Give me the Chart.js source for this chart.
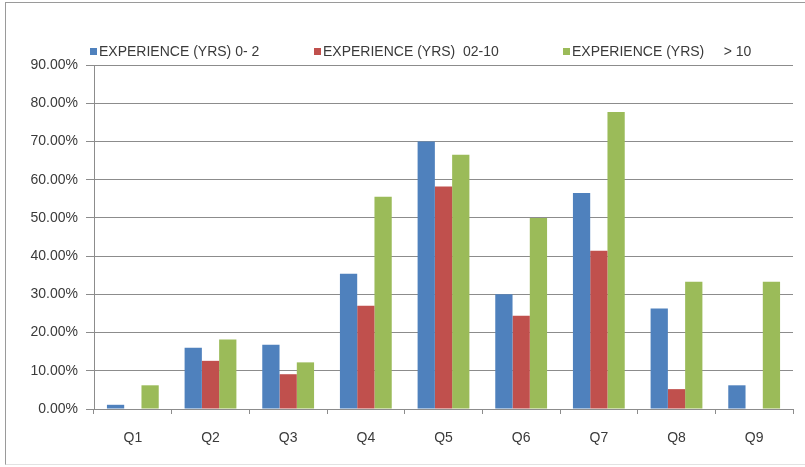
<!DOCTYPE html>
<html>
<head>
<meta charset="utf-8">
<title>Experience by question</title>
<script src="https://cdn.jsdelivr.net/npm/chart.js@4/dist/chart.umd.min.js"></script>
<style>
  html, body { margin: 0; padding: 0; background: #fff; }
  .wrap { position: relative; width: 805px; height: 467px; }
  .frame {
    position: absolute; left: 5px; top: 2px; right: -2px; bottom: 2px;
    border-left: 1px solid #9a9a9a; border-top: 1px solid #9a9a9a;
    border-bottom: 1px solid #e2e2e2; pointer-events: none;
  }
  canvas { position: absolute; left: 0; top: 0; }
</style>
</head>
<body>
<div class="wrap">
  <canvas id="chart" width="805" height="467"></canvas>
  <div class="frame"></div>
</div>
<script>
const questions = ["Q1", "Q2", "Q3", "Q4", "Q5", "Q6", "Q7", "Q8", "Q9"];
const seriesNames = [
  "EXPERIENCE (YRS) 0- 2",
  "EXPERIENCE (YRS)  02-10",
  "EXPERIENCE (YRS)     > 10"
];
// percentages
const exp0to2 = [1.1, 16.0, 16.8, 35.4, 70.0, 30.0, 56.5, 26.3, 6.2];
const exp2to10 = [0, 12.6, 9.1, 27.0, 58.2, 24.4, 41.4, 5.2, 0];
const expOver10 = [6.2, 18.2, 12.2, 55.5, 66.5, 50.0, 77.7, 33.3, 33.3];
const yMin = 0;
const yMax = 90;
const yStep = 10;

const colors = ["#4f81bd", "#c0504d", "#9bbb59"];
const textColor = "#3a3a3a";
const lineColor = "#8c8c8c";
const fontFamily = "'Liberation Sans', Arial, sans-serif";

// legend entries sit in a single row above the plot, Excel style
const legendBoxX = [90, 314, 563];
const legendRow = {
  id: "legendRow",
  afterDraw(chart) {
    const ctx = chart.ctx;
    ctx.save();
    ctx.font = "14px " + fontFamily;
    ctx.textBaseline = "middle";
    ctx.textAlign = "left";
    chart.data.datasets.forEach((ds, i) => {
      const x = legendBoxX[i];
      ctx.fillStyle = ds.backgroundColor;
      ctx.fillRect(x, 48, 7, 7);
      ctx.fillStyle = textColor;
      ctx.fillText(ds.label, x + 9, 52);
    });
    ctx.restore();
  }
};

const ctx = document.getElementById("chart").getContext("2d");
new Chart(ctx, {
  type: "bar",
  data: {
    labels: questions,
    datasets: [
      { label: seriesNames[0], data: exp0to2, backgroundColor: colors[0] },
      { label: seriesNames[1], data: exp2to10, backgroundColor: colors[1] },
      { label: seriesNames[2], data: expOver10, backgroundColor: colors[2] }
    ]
  },
  options: {
    responsive: false,
    animation: false,
    devicePixelRatio: 1,
    layout: { padding: { left: 10, right: 12, top: 65, bottom: 0 } },
    datasets: {
      bar: { categoryPercentage: 0.667, barPercentage: 1.0, borderWidth: 0 }
    },
    plugins: {
      legend: { display: false },
      tooltip: { enabled: false }
    },
    scales: {
      x: {
        afterFit: (scale) => { scale.height = 58; },
        grid: {
          offset: true,
          drawOnChartArea: false,
          drawTicks: true,
          tickLength: 5,
          color: lineColor
        },
        border: { display: true, color: lineColor },
        ticks: {
          padding: 16,
          color: textColor,
          font: { family: fontFamily, size: 14 }
        }
      },
      y: {
        min: yMin,
        max: yMax,
        afterFit: (scale) => { scale.width = 84; },
        grid: {
          color: lineColor,
          drawTicks: true,
          tickLength: 8
        },
        border: { display: true, color: lineColor },
        ticks: {
          stepSize: yStep,
          padding: 8,
          color: textColor,
          font: { family: fontFamily, size: 14 },
          callback: (v) => v.toFixed(2) + "%"
        }
      }
    }
  },
  plugins: [legendRow]
});
</script>
</body>
</html>
